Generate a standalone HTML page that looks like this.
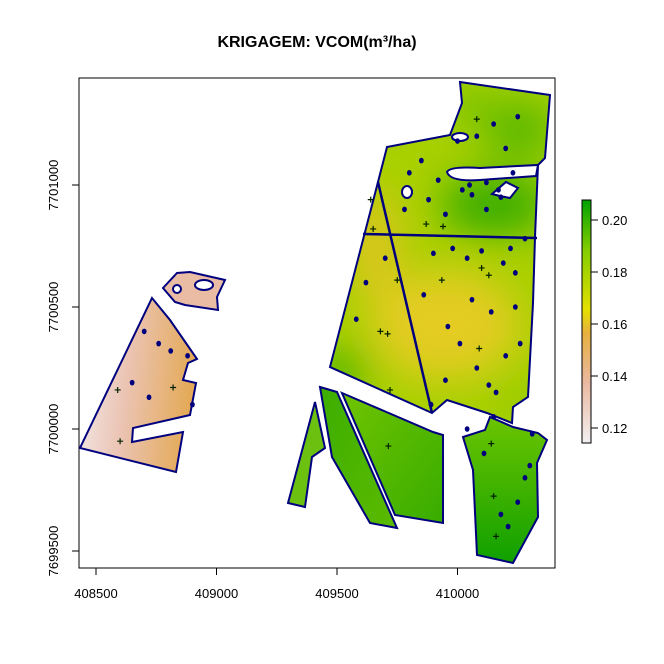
<!DOCTYPE html>
<html><head><meta charset="utf-8"><style>
body{margin:0;background:#fff}
svg{display:block;font-family:"Liberation Sans",sans-serif}
</style></head><body>
<svg id="chart" width="664" height="664" viewBox="0 0 664 664">
<defs>
<filter id="blur" x="-50%" y="-50%" width="200%" height="200%"><feGaussianBlur stdDeviation="20"/></filter>
<clipPath id="clipN"><path d="M460,82 L550,95 L545,158 L538,165 L535,237 L533,303 L528,397 L513,407 L512,423 L487,413 L447,400 L432,413 L330,367 L378,182 L387,147 L450,135 L462,103 Z"/></clipPath>
<linearGradient id="gW" x1="0" y1="0" x2="1" y2="0.15">
<stop offset="0" stop-color="#f3ecec"/><stop offset="0.45" stop-color="#ebc4b4"/><stop offset="1" stop-color="#e4aa58"/></linearGradient>
<linearGradient id="gSE" x1="0" y1="0" x2="0" y2="1"><stop offset="0" stop-color="#6cc400"/><stop offset="1" stop-color="#10a000"/></linearGradient>
<linearGradient id="gS1" x1="0" y1="0" x2="1" y2="1"><stop offset="0" stop-color="#3cae00"/><stop offset="1" stop-color="#5cba00"/></linearGradient>
<linearGradient id="gS2" x1="0" y1="0" x2="1" y2="1"><stop offset="0" stop-color="#70c400"/><stop offset="1" stop-color="#38ac00"/></linearGradient>
<linearGradient id="gCB" x1="0" y1="1" x2="0" y2="0">
<stop offset="0" stop-color="#f2f0f0"/><stop offset="0.25" stop-color="#eab8a0"/><stop offset="0.45" stop-color="#e6b040"/><stop offset="0.55" stop-color="#e4e000"/><stop offset="0.8" stop-color="#80cc00"/><stop offset="1" stop-color="#00a000"/></linearGradient>
</defs>
<text x="317" y="47" text-anchor="middle" font-size="16" font-weight="bold">KRIGAGEM: VCOM(m³/ha)</text>
<rect x="79" y="78" width="476" height="490" fill="none" stroke="#000" stroke-width="1"/>

<path d="M152,298 L170,320 L197,359 L188,363 L183,380 L196,383 L190,415 L133,428 L132,442 L183,432 L176,472 L80,448 Z" fill="url(#gW)" stroke="#00007f" stroke-width="2"/>
<path d="M163,288 L177,273 L190,272 L225,280 L217,297 L218,310 L185,305 L175,302 Z" fill="#eabca4" stroke="#00007f" stroke-width="2"/>
<ellipse cx="204" cy="285" rx="9" ry="5" fill="#fff" stroke="#00007f" stroke-width="2"/>
<ellipse cx="177" cy="289" rx="4" ry="4" fill="#fff" stroke="#00007f" stroke-width="2"/>

<g clip-path="url(#clipN)">
<rect x="320" y="80" width="240" height="350" fill="#a8d000"/>
<g filter="url(#blur)">
<ellipse cx="445" cy="325" rx="75" ry="55" fill="#e4cc20"/>
<ellipse cx="375" cy="245" rx="22" ry="55" fill="#e4c420"/>
<ellipse cx="495" cy="205" rx="55" ry="30" fill="#38ac00"/>
<ellipse cx="520" cy="130" rx="35" ry="30" fill="#58b800"/>
<ellipse cx="470" cy="105" rx="20" ry="20" fill="#70c000"/>
<ellipse cx="340" cy="372" rx="28" ry="22" fill="#48b200"/>
<ellipse cx="520" cy="400" rx="30" ry="20" fill="#98cc00"/>
</g>
</g>
<path d="M460,82 L550,95 L545,158 L538,165 L535,237 L533,303 L528,397 L513,407 L512,423 L487,413 L447,400 L432,413 L330,367 L378,182 L387,147 L450,135 L462,103 Z" fill="none" stroke="#00007f" stroke-width="2"/>
<path d="M363,234 L537,238 M378,182 L432,413" stroke="#00007f" stroke-width="2.5" fill="none"/>
<path d="M447,172 Q450,166 480,168 L538,165 L536,176 L480,180 Q450,182 447,172 Z" fill="#fff" stroke="#00007f" stroke-width="2"/>
<path d="M492,194 L506,182 L518,188 L510,198 L500,196 Z" fill="#fff" stroke="#00007f" stroke-width="2"/>
<ellipse cx="407" cy="192" rx="5" ry="6" fill="#fff" stroke="#00007f" stroke-width="2"/>
<ellipse cx="460" cy="137" rx="8" ry="4" fill="#fff" stroke="#00007f" stroke-width="2"/>

<path d="M463,437 L485,430 L490,417 L513,427 L538,433 L547,440 L537,463 L538,517 L513,563 L477,555 L473,470 Z" fill="url(#gSE)" stroke="#00007f" stroke-width="2"/>
<path d="M320,387 L337,392 L397,528 L370,523 L332,457 Z" fill="url(#gS1)" stroke="#00007f" stroke-width="2"/>
<path d="M342,393 L433,432 L443,435 L443,523 L395,515 Z" fill="url(#gS2)" stroke="#00007f" stroke-width="2"/>
<path d="M315,402 L325,448 L312,457 L305,507 L288,503 Z" fill="#6cc010" stroke="#00007f" stroke-width="2"/>

<g id="dots"></g>
<g id="marks"></g>
<g id="axes"></g>

<rect x="582" y="200" width="9" height="243" fill="url(#gCB)" stroke="#000" stroke-width="1"/>
<g id="cb"></g>
</svg>
<script>
const xTicks=[408500,409000,409500,410000];
const yTicks=[7699500,7700000,7700500,7701000];
const cbTicks=[0.12,0.14,0.16,0.18,0.20];
const sampleX=[408590,408600,408820,409935,409710,409940,409720,409713,410150,410160,410140,409870,409750,410100,410090,409650,409680,410130,410080,409640];
const sampleY=[7700160,7699950,7700170,7700610,7700390,7700830,7700160,7699930,7699725,7699560,7699940,7700840,7700610,7700660,7700330,7700820,7700400,7700630,7701270,7700940];
const holeX=[409800,409850,409920,410000,410080,410150,410200,410250,410050,409880,409950,410120,410180,409980,410220,409860,410060,410140,410240,410010,409700,409620,409580,409950,410080,410200,410260,410160,409890,410040,410110,410300,410250,410180,410210,410280,410150,408700,408760,408810,408880,408650,408720,408900,410020,410060,410120,410170,410230,409780,409900,410040,410100,410190,410240,410280,410310,409960,410130];
const holeY=[7701050,7701100,7701020,7701180,7701200,7701250,7701150,7701280,7701000,7700940,7700880,7700900,7700950,7700740,7700740,7700550,7700530,7700480,7700500,7700350,7700700,7700600,7700450,7700200,7700250,7700300,7700350,7700150,7700100,7700000,7699900,7699850,7699700,7699650,7699600,7699800,7700050,7700400,7700350,7700320,7700300,7700190,7700130,7700100,7700980,7700960,7701010,7700980,7701050,7700900,7700720,7700700,7700730,7700680,7700640,7700780,7699980,7700420,7700180];
const X=v=>96+(v-408500)*120.5/500;
const Y=v=>551-(v-7699500)*122/500;
const CB=v=>428-(v-0.12)*(428-220)/0.08;
const ns="http://www.w3.org/2000/svg";
function mk(t,a,p){const e=document.createElementNS(ns,t);for(const k in a)e.setAttribute(k,a[k]);p.appendChild(e);return e;}
const dots=document.getElementById('dots');
holeX.forEach((v,i)=>{const e=mk('ellipse',{cx:X(v),cy:Y(holeY[i]),rx:2.4,ry:2.8,fill:'#00007f'},dots);

});
const marks=document.getElementById('marks');
sampleX.forEach((v,i)=>{const x=X(v),y=Y(sampleY[i]);const e=mk('path',{d:`M${x-3},${y}H${x+3}M${x},${y-3}V${y+3}`,stroke:'#002000','stroke-width':1.2},marks);

});
const ax=document.getElementById('axes');
xTicks.forEach(v=>{const x=X(v);mk('line',{x1:x,x2:x,y1:568,y2:575,stroke:'#000'},ax);
const t=mk('text',{x:x,y:598,'text-anchor':'middle','font-size':13},ax);t.textContent=v;

});
yTicks.forEach(v=>{const y=Y(v);mk('line',{x1:72,x2:79,y1:y,y2:y,stroke:'#000'},ax);
const t=mk('text',{x:58,y:y,'text-anchor':'middle','font-size':13,transform:`rotate(-90 58 ${y})`},ax);t.textContent=v;

});
const cb=document.getElementById('cb');
cbTicks.forEach(v=>{const y=CB(v);mk('line',{x1:591,x2:598,y1:y,y2:y,stroke:'#000'},cb);
const t=mk('text',{x:602,y:y+5,'font-size':13},cb);t.textContent=v.toFixed(2);

});
</script>
</body></html>
